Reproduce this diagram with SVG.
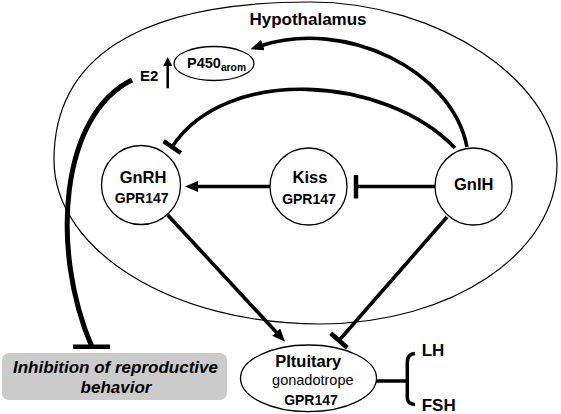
<svg xmlns="http://www.w3.org/2000/svg" width="561" height="414" viewBox="0 0 561 414">
<style>
text{font-family:"Liberation Sans",Arial,sans-serif;fill:#000;text-anchor:middle}
.b{font-weight:bold}
.shape{fill:#fff;stroke:#000;stroke-width:1.3}
.con{fill:none;stroke:#000;stroke-width:3.6}
.bar{stroke:#000;stroke-width:4.5;fill:none}
</style>
<defs>
<marker id="arr" markerUnits="userSpaceOnUse" markerWidth="13" markerHeight="11" viewBox="0 0 13 11" refX="3" refY="5.5" orient="auto">
<path d="M0,0 L13,5.5 L0,11 z" fill="#000"/>
</marker>
<marker id="arrS" markerUnits="userSpaceOnUse" markerWidth="9" markerHeight="9" viewBox="0 0 9 9" refX="2" refY="4.5" orient="auto">
<path d="M0,0 L9,4.5 L0,9 z" fill="#000"/>
</marker>
</defs>
<rect width="561" height="414" fill="#fff"/>
<g id="hypothalamus">
<path d="M310,2 C135,2 54,60 54,160 C54,250.6 173,324 320,324 C451,324 557,253 557,165 C557,83 440,2 310,2 Z" fill="none" stroke="#000" stroke-width="1.2"/>
<text x="308" y="25" class="b" font-size="17">Hypothalamus</text>
</g>
<g id="behavior">
<rect x="2" y="353" width="225" height="47" rx="7" fill="#cbcbcb"/>
<text x="115.5" y="373.3" class="b" font-style="italic" font-size="17">Inhibition of reproductive</text>
<text x="116" y="393.3" class="b" font-style="italic" font-size="17">behavior</text>
</g>
<g id="connectors">
<path class="con" d="M467,147 C452,70 345,18 260,46" marker-end="url(#arr)"/>
<path class="con" d="M455,148 C385,75 225,65 172,147"/>
<line class="bar" x1="163.6" y1="141.2" x2="180.8" y2="153"/>
<line class="con" x1="270" y1="186.5" x2="195" y2="186.5" marker-end="url(#arr)"/>
<line class="con" x1="435" y1="186.5" x2="356" y2="186.5"/>
<line class="bar" x1="356" y1="175" x2="356" y2="198.5" stroke-width="5"/>
<line class="con" x1="167.7" y1="215" x2="278.2" y2="334.3" marker-end="url(#arr)"/>
<line class="con" x1="447" y1="217" x2="339" y2="340.5"/>
<line class="bar" x1="330.7" y1="333.3" x2="347.3" y2="347.7"/>
<path d="M132,80 C60,115 50,250 92,347" fill="none" stroke="#000" stroke-width="5"/>
<line class="bar" x1="73" y1="346.7" x2="110" y2="346.7" stroke-width="5"/>
<line x1="167.7" y1="88.3" x2="167.7" y2="64" stroke="#000" stroke-width="2.5" marker-end="url(#arrS)"/>
<line class="con" x1="359" y1="381" x2="407.3" y2="381" stroke-width="4"/>
<path d="M415,353.5 Q407.3,354 407.3,362 L407.3,398 Q407.3,404 415,404.5" fill="none" stroke="#000" stroke-width="3.5"/>
</g>
<g id="p450">
<ellipse class="shape" cx="214" cy="63.5" rx="40" ry="17"/>
<text x="187" y="68" class="b" font-size="14.5" style="text-anchor:start">P450<tspan font-size="10.3" dy="3.2">arom</tspan></text>
</g>
<g id="e2">
<text x="149.2" y="80.7" class="b" font-size="15">E2</text>
</g>
<g id="gnrh">
<circle class="shape" cx="141" cy="185" r="39.5"/>
<text x="143" y="182.7" class="b" font-size="16.5">GnRH</text>
<text x="141.7" y="203.3" class="b" font-size="14">GPR147</text>
</g>
<g id="kiss">
<circle class="shape" cx="308.5" cy="186.5" r="38.5"/>
<text x="310" y="183.3" class="b" font-size="16.5">Kiss</text>
<text x="309" y="204" class="b" font-size="14">GPR147</text>
</g>
<g id="gnih">
<circle class="shape" cx="473.5" cy="186.5" r="38.5"/>
<text x="473.7" y="190" class="b" font-size="16.5">GnIH</text>
</g>
<g id="pituitary">
<ellipse class="shape" cx="308.5" cy="378.3" rx="68" ry="33.3"/>
<text x="308.3" y="366.7" class="b" font-size="16.5">PItuitary</text>
<text x="312.8" y="385" font-size="14.5">gonadotrope</text>
<text x="311" y="405" class="b" font-size="14">GPR147</text>
</g>
<g id="lh">
<text x="421.7" y="356" class="b" font-size="17" style="text-anchor:start">LH</text>
</g>
<g id="fsh">
<text x="421.7" y="410.7" class="b" font-size="17" style="text-anchor:start">FSH</text>
</g>
</svg>
